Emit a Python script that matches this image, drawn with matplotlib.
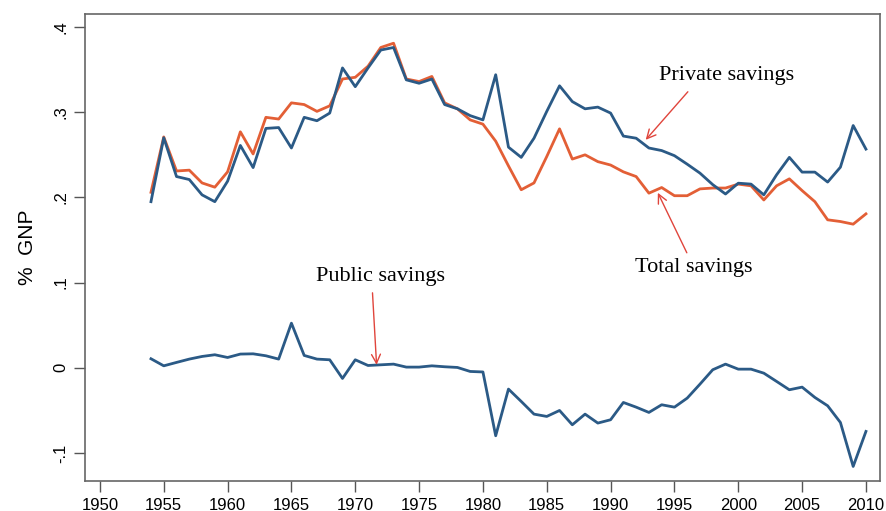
import numpy as np
import matplotlib
matplotlib.use('Agg')
import matplotlib.pyplot as plt

years = np.arange(1954, 2011)

# private savings (% GNP)
private = [0.195, 0.270, 0.2245, 0.221, 0.203, 0.195, 0.219, 0.261, 0.235, 0.281,
           0.282, 0.258, 0.294, 0.290, 0.299, 0.352, 0.330, 0.352, 0.373, 0.376,
           0.338, 0.334, 0.339, 0.309, 0.304, 0.296, 0.291, 0.344, 0.259, 0.247,
           0.2695, 0.301, 0.331, 0.3125, 0.304, 0.306, 0.299, 0.272, 0.2695, 0.258,
           0.255, 0.249, 0.239, 0.2285, 0.215, 0.204, 0.2167, 0.2156, 0.203, 0.2265,
           0.247, 0.2297, 0.2297, 0.218, 0.2355, 0.2844, 0.2567]

# total savings
total = [0.206, 0.271, 0.231, 0.232, 0.217, 0.212, 0.230, 0.277, 0.251, 0.294,
         0.292, 0.311, 0.309, 0.301, 0.3075, 0.339, 0.341, 0.354, 0.376, 0.381,
         0.339, 0.336, 0.342, 0.311, 0.304, 0.291, 0.286, 0.266, 0.237, 0.209,
         0.217, 0.248, 0.2805, 0.245, 0.250, 0.242, 0.238, 0.230, 0.2245, 0.205,
         0.2116, 0.202, 0.202, 0.210, 0.211, 0.211, 0.2156, 0.2136, 0.197, 0.2136,
         0.2218, 0.208, 0.195, 0.1737, 0.1717, 0.1686, 0.1807]

# public savings
public = [0.0106, 0.0023, 0.0063, 0.0102, 0.0133, 0.0153, 0.0121, 0.0161, 0.0164, 0.0141,
          0.0102, 0.0524, 0.0145, 0.0102, 0.0094, -0.0125, 0.0094, 0.0027, 0.0035, 0.0043,
          0.0008, 0.0008, 0.0023, 0.0012, 0.0004, -0.0043, -0.0049, -0.0798, -0.025, -0.0395,
          -0.0544, -0.0571, -0.0501, -0.0669, -0.0544, -0.0649, -0.061, -0.0407, -0.0462, -0.0524,
          -0.0434, -0.0462, -0.0356, -0.0192, -0.0023, 0.0043, -0.0016, -0.0016, -0.0063, -0.016,
          -0.0258, -0.0227, -0.0348, -0.0446, -0.0642, -0.1158, -0.0747]

xticks = list(range(1950, 2011, 5))
yticks = [-0.1, 0, 0.1, 0.2, 0.3, 0.4]
ylabels = ['-.1', '0', '.1', '.2', '.3', '.4']

blue = '#2b5a86'
orange = '#e35f36'
red = '#e0453c'

fig = plt.figure(figsize=(8.87, 5.11), dpi=100)
ax = fig.add_axes([0.0958, 0.0587, 0.8963, 0.9139])

ax.plot(years, total, color=orange, lw=2.0)
ax.plot(years, private, color=blue, lw=2.0)
ax.plot(years, public, color=blue, lw=2.0)

ax.set_xlim(1948.83, 2011.1)
ax.set_ylim(-0.1329, 0.4153)
ax.set_xticks(xticks)
ax.set_xticklabels([str(t) for t in xticks], fontsize=12, family='Liberation Sans')
ax.set_yticks(yticks)
ax.set_yticklabels(ylabels, fontsize=12, family='Liberation Sans', rotation=90, va='center')
ax.tick_params(length=8, width=1, color='#555555', pad=4)
ax.set_ylabel('%  GNP', fontsize=15, family='Liberation Sans', labelpad=12)
for s in ax.spines.values():
    s.set_color('#666666')
    s.set_linewidth(1.2)

# labels + arrows
serif = 'Liberation Serif'
aprops = dict(arrowstyle='->', color=red, lw=1.0, mutation_scale=16, shrinkA=0, shrinkB=0)

ax.text(1999.1, 0.3427, 'Private savings', ha='center', va='center', fontsize=16, family=serif)
ax.annotate('', xy=(1992.75, 0.2676), xytext=(1996.05, 0.324), arrowprops=aprops)

ax.text(1996.5, 0.1174, 'Total savings', ha='center', va='center', fontsize=16, family=serif)
ax.annotate('', xy=(1993.7, 0.2054), xytext=(1995.97, 0.135), arrowprops=aprops)

ax.text(1972.0, 0.1068, 'Public savings', ha='center', va='center', fontsize=16, family=serif)
ax.annotate('', xy=(1971.67, 0.0035), xytext=(1971.35, 0.088), arrowprops=aprops)

fig.savefig('out.png', dpi=100)
